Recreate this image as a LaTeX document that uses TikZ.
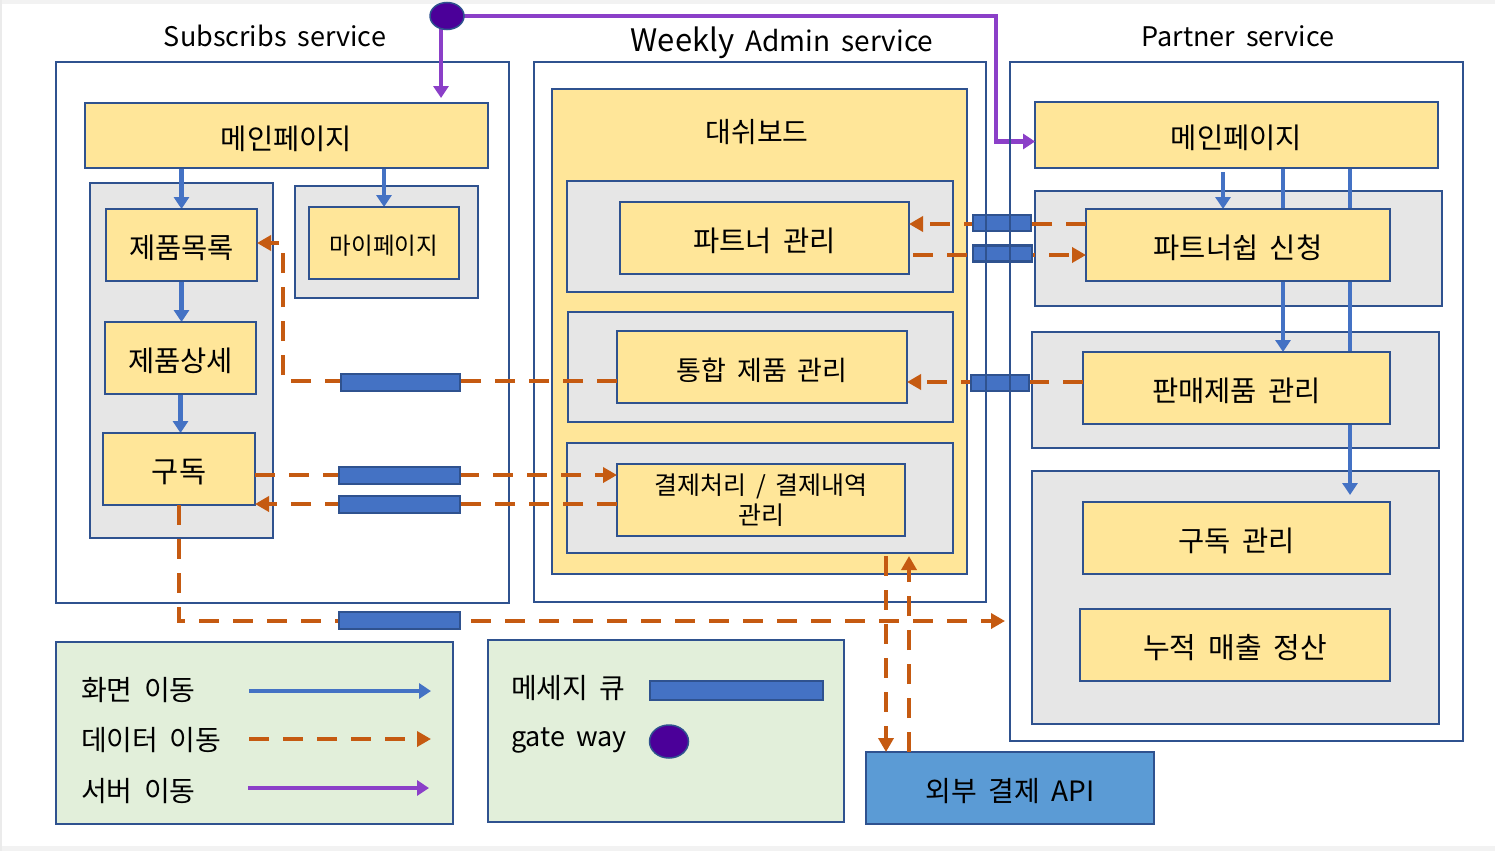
\documentclass[tikz,border=0pt]{standalone}
\usepackage{fontspec}
\setmainfont[WordSpace=1.8]{Noto Sans CJK KR}
\usetikzlibrary{arrows.meta,shapes.geometric,calc}
\definecolor{bd}{HTML}{2F528F}
\definecolor{yl}{HTML}{FFE699}
\definecolor{gr}{HTML}{E6E6E6}
\definecolor{qb}{HTML}{4472C4}
\definecolor{ar}{HTML}{4472C4}
\definecolor{og}{HTML}{C55A11}
\definecolor{pu}{HTML}{8B3FC8}
\definecolor{gwc}{HTML}{4B0099}
\definecolor{lg}{HTML}{E2EFDA}
\definecolor{apic}{HTML}{5B9BD5}
\pgfdeclarelayer{back}
\pgfdeclarelayer{mid}
\pgfdeclarelayer{front}
\pgfdeclarelayer{top}
\pgfsetlayers{back,mid,main,front,top}
\begin{document}
\begin{tikzpicture}[x=1pt,y=-1pt,
 box/.style={draw=bd,line width=2pt,inner sep=0pt,outer sep=0pt,rectangle},
 outerbox/.style={box,fill=white},
 grp/.style={box,fill=gr},
 ybox/.style={box,fill=yl,font=\fontsize{28.5}{32}\selectfont,align=center},
 lowtxt/.style={text height=29pt,text depth=1.6pt},
 queue/.style={box,fill=qb,line width=2.5pt},
 gwstyle/.style={ellipse,draw=bd,line width=1.5pt,fill=gwc,inner sep=0pt},
 blu/.style={draw=ar,line width=4.5pt,-{Triangle[width=15pt,length=12pt]}},
 ora/.style={draw=og,line width=4.3pt,dash pattern=on 20pt off 14pt,-{Triangle[width=15pt,length=14pt]}},
 pur/.style={draw=pu,line width=4.3pt,-{Triangle[width=15pt,length=12pt]}},
 title/.style={font=\fontsize{27}{32}\selectfont,anchor=base,inner sep=0pt},
 legtxt/.style={font=\fontsize{28}{32}\selectfont,anchor=west,inner sep=0pt}
]
\useasboundingbox (0,0) rectangle (1495,851);
\begin{pgfonlayer}{back}
\fill[white] (0,0) rectangle (1495,851);
\fill[black!5] (0,0) rectangle (1495,4);
\fill[black!5] (0,846) rectangle (1495,851);
\fill[black!8] (0,0) rectangle (2,851);
% outer service boxes
\node[outerbox,minimum width=453pt,minimum height=541pt] (sub) at (282.5,332.5) {};
\node[outerbox,minimum width=452pt,minimum height=540pt] (adm) at (760,332) {};
\node[outerbox,minimum width=453pt,minimum height=679pt] (par) at (1236.5,401.5) {};
\node[title] (tsub) at (275,46) {Subscribs service};
\node[title] (tadm) at (782,52) {{\fontsize{31}{36}\selectfont Weekly} {\fontsize{28}{34}\selectfont Admin service}};
\node[title] (tpar) at (1238,46) {Partner service};
% groups
\node[grp,minimum width=183pt,minimum height=355pt] (sg1) at (181.5,360.5) {};
\node[grp,minimum width=183pt,minimum height=112pt] (sg2) at (386.5,242) {};
\node[box,fill=yl,minimum width=415pt,minimum height=485pt] (dash) at (759.5,331.5) {};
\node[font=\fontsize{28}{32}\selectfont,inner sep=0pt] (dashlbl) at (757,132) {대쉬보드};
\node[grp,minimum width=386pt,minimum height=111pt] (ag1) at (760,236.5) {};
\node[grp,minimum width=385pt,minimum height=110pt] (ag2) at (760.5,367) {};
\node[grp,minimum width=386pt,minimum height=110pt] (ag3) at (760,498) {};
\node[grp,minimum width=407pt,minimum height=115pt] (pg1) at (1238.5,248.5) {};
\node[grp,minimum width=407pt,minimum height=116pt] (pg2) at (1235.5,390) {};
\node[grp,minimum width=407pt,minimum height=253pt] (pg3) at (1235.5,597.5) {};
% legend boxes
\node[box,fill=lg,minimum width=397pt,minimum height=182pt] (leg1) at (254.5,733) {};
\node[box,fill=lg,minimum width=356pt,minimum height=182pt] (leg2) at (666,731) {};
\end{pgfonlayer}
% yellow boxes
\node[ybox,lowtxt,minimum width=403pt,minimum height=65pt] (smain) at (286.5,135.5) {메인페이지};
\node[ybox,lowtxt,minimum width=151pt,minimum height=72pt] (slist) at (181.5,245) {제품목록};
\node[ybox,lowtxt,minimum width=151pt,minimum height=72pt] (sdetail) at (180.5,358) {제품상세};
\node[ybox,lowtxt,minimum width=152pt,minimum height=72pt,font=\fontsize{29.5}{32}\selectfont] (ssub) at (179,469) {구독};
\node[ybox,text height=24pt,text depth=1.4pt,minimum width=150pt,minimum height=72pt,font=\fontsize{23.5}{28}\selectfont] (smy) at (384,243) {마이페이지};
\node[ybox,lowtxt,minimum width=289pt,minimum height=72pt] (apm) at (764.5,238) {파트너 관리};
\node[ybox,lowtxt,minimum width=290pt,minimum height=72pt,font=\fontsize{27}{30}\selectfont] (aprod) at (762,367) {통합 제품 관리};
\node[ybox,minimum width=288pt,minimum height=72pt,font=\fontsize{25}{30}\selectfont] (apay) at (761,500) {결제처리 / 결제내역\\관리};
\node[box,lowtxt,fill=apic,minimum width=288pt,minimum height=72pt,font=\fontsize{28}{32}\selectfont] (api) at (1010,788) {외부 결제 API};
\node[ybox,lowtxt,minimum width=403pt,minimum height=66pt] (pmain) at (1236.5,135) {메인페이지};
\node[ybox,lowtxt,minimum width=304pt,minimum height=72pt] (papp) at (1238,245) {파트너쉽 신청};
\node[ybox,lowtxt,minimum width=307pt,minimum height=72pt] (psale) at (1236.5,388) {판매제품 관리};
\node[ybox,lowtxt,minimum width=307pt,minimum height=72pt] (psubm) at (1236.5,538) {구독 관리};
\node[ybox,lowtxt,minimum width=310pt,minimum height=72pt,font=\fontsize{29}{32}\selectfont] (pacc) at (1235,645) {누적 매출 정산};
% legend content
\node[legtxt] (lt1) at (81,690) {화면 이동};
\node[legtxt] (lt2) at (81,740) {데이터 이동};
\node[legtxt] (lt3) at (81,791) {서버 이동};
\node[legtxt] (lt4) at (511,688) {메세지 큐};
\node[legtxt,font=\fontsize{27}{32}\selectfont] (lt5) at (511,740) {gate way};
\node[queue,minimum width=173pt,minimum height=19pt] (legq) at (736.5,690.5) {};
\node[gwstyle,minimum width=39pt,minimum height=33pt] (leggw) at (669,741.5) {};
\coordinate (l1a) at (249,691); \coordinate (l1b) at (431,691);
\coordinate (l2a) at (249,739); \coordinate (l2b) at (431,739);
\coordinate (l3a) at (248,788); \coordinate (l3b) at (429,788);
\draw[blu] (l1a) -- (l1b);
\draw[ora] (l2a) -- (l2b);
\draw[pur] (l3a) -- (l3b);
% blue screen-flow arrows
\begin{pgfonlayer}{mid}
\draw[blu] (smain.south -| slist.north) -- (slist.north);
\draw[blu] (smain.south -| smy.north) -- (smy.north);
\draw[blu] (slist.south) -- (slist.south |- sdetail.north);
\draw[blu] (sdetail.south) -- (sdetail.south |- ssub.north);
\path ([xshift=-13.5pt]pmain.south) coordinate (pm1)
      ([xshift=46.5pt]pmain.south) coordinate (pm2)
      ([xshift=113.5pt]pmain.south) coordinate (pm3);
\draw[blu,shorten <=4pt] (pm1) -- (pm1 |- papp.north);
\draw[blu] (pm2) -- (pm2 |- psale.north);
\draw[blu,shorten >=7pt] (pm3) -- (pm3 |- psubm.north);
\end{pgfonlayer}
% queues and gateway
\begin{pgfonlayer}{top}
\node[queue,minimum width=119pt,minimum height=17pt] (q1) at (400.5,382.5) {};
\node[queue,minimum width=121pt,minimum height=17pt] (q2) at (399.5,475.5) {};
\node[queue,minimum width=121pt,minimum height=17pt] (q3) at (399.5,504.5) {};
\node[queue,minimum width=121pt,minimum height=17pt] (q4) at (399.5,620.5) {};
\node[queue,minimum width=58pt,minimum height=16pt] (q5) at (1002,223) {};
\node[queue,minimum width=59pt,minimum height=16pt] (q6) at (1002.5,253.5) {};
\node[queue,minimum width=58pt,minimum height=16pt] (q7) at (1000,383) {};
\draw[draw=bd,line width=2pt] (adm.north east) -- (adm.south east) (par.north west) -- (par.south west);
\node[gwstyle,minimum width=34pt,minimum height=27pt] (gw) at (447,16) {};
\end{pgfonlayer}
% orange data-flow arrows
\begin{pgfonlayer}{front}
\path ([yshift=21pt]papp.west) coordinate (d1s);
\draw[ora] (d1s) -- (d1s -| apm.east);
\path ([yshift=-17pt]apm.east) coordinate (d2s);
\draw[ora,shorten <=4pt] (d2s) -- (d2s -| papp.west);
\path ([yshift=6pt]psale.west) coordinate (d3s);
\draw[ora] (d3s) -- (d3s -| aprod.east);
\path ([yshift=-14pt]aprod.west) coordinate (d4s);
\coordinate (d4k) at (283,243);
\draw[ora] (d4s) -| (d4k) -- (d4k -| slist.east);
\path ([yshift=-6pt]ssub.east) coordinate (d5s);
\draw[ora] (d5s) -- (d5s -| apay.west);
\path ([yshift=-4pt]apay.west) coordinate (d6s);
\draw[ora] (d6s) -- (d6s -| ssub.east);
\coordinate (d7e) at (1005,621);
\draw[ora] (ssub.south) |- (d7e);
\path ([xshift=-124pt]api.north) coordinate (apiL) ([xshift=-101pt]api.north) coordinate (apiR);
\draw[ora,shorten <=3pt] (apiL |- ag3.south) -- (apiL);
\draw[ora,shorten >=3pt] (apiR) -- (apiR |- ag3.south);
% purple server-flow arrows
\coordinate (gwturn) at (996,16);
\draw[pur] (gw.center) -- (gwturn) |- ([yshift=-6.5pt]pmain.west);
\path ([xshift=-6pt]gw.center) coordinate (gwd);
\draw[pur,shorten >=5pt] (gwd) -- (gwd |- smain.north);
\end{pgfonlayer}
\end{tikzpicture}
\end{document}
